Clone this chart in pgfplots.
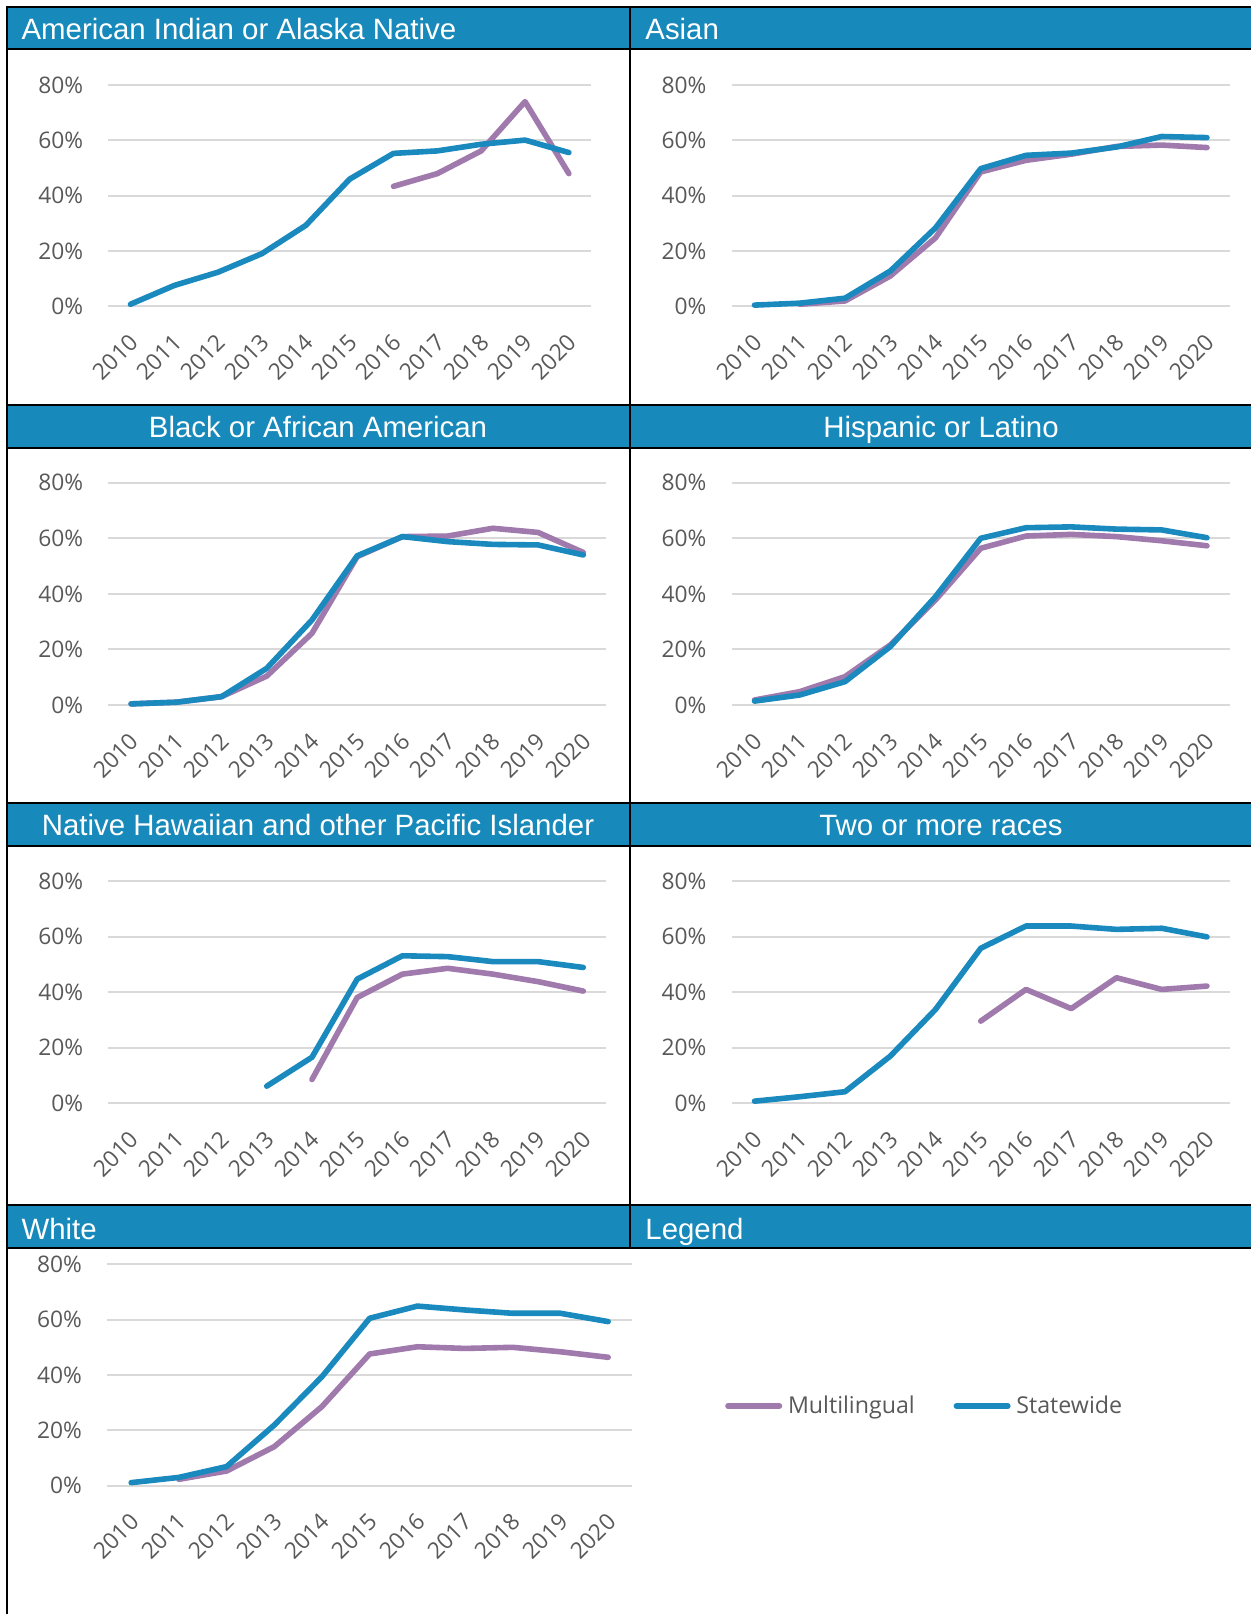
\documentclass[border=0pt]{standalone}
\usepackage{pgfplots}
\pgfplotsset{compat=1.18}
\usepackage{fontspec}
\setmainfont{Liberation Sans}
\newfontfamily\osans{Open Sans}
\definecolor{hdr}{RGB}{23,137,186}
\definecolor{stw}{RGB}{26,137,190}
\definecolor{mlt}{RGB}{160,122,172}
\definecolor{grd}{RGB}{217,217,217}
\definecolor{tkc}{RGB}{89,89,89}
\newcommand\tickfont{\osans\fontsize{11.4}{13.6}\selectfont}
\newcommand\titlefont{\fontsize{14.7}{17}\selectfont}
\pgfplotsset{
  panel/.style={
    scale only axis, anchor=south west,
    xmin=2009.5, xmax=2020.5, ymin=0, ymax=80,
    xtick={2010,2011,2012,2013,2014,2015,2016,2017,2018,2019,2020},
    xticklabels={2010,2011,2012,2013,2014,2015,2016,2017,2018,2019,2020},
    ytick={0,20,40,60,80},
    yticklabels={0\%,20\%,40\%,60\%,80\%},
    ymajorgrids, xmajorgrids=false,
    major grid style={draw=grd, line width=1pt},
    axis x line*=bottom, axis y line*=left,
    axis line style={draw=none},
    major tick length=0pt,
    clip=false,
    tick label style={font=\tickfont, text=tkc},
    yticklabel style={inner sep=0pt, anchor=east, xshift=-12.5pt},
    xticklabel style={inner sep=0pt, xshift=1.8pt, yshift=-16pt, rotate=45, anchor=east},
  },
  ml/.style={mlt, line width=2.8pt, line cap=round, line join=round},
  sw/.style={stw, line width=2.8pt, line cap=round, line join=round},
}
\begin{document}
\begin{tikzpicture}
\useasboundingbox (0pt,0pt) rectangle (625.5pt,807pt);
% header bars
\fill[hdr] (3.5pt,803.65pt) rectangle (625.5pt,782.35pt);
\fill[hdr] (3.5pt,604.5pt) rectangle (625.5pt,583.15pt);
\fill[hdr] (3.5pt,405.35pt) rectangle (625.5pt,384.15pt);
\fill[hdr] (3.5pt,204.5pt) rectangle (625.5pt,183.15pt);
% borders
\begin{scope}[line width=1pt, black]
\draw (3.5pt,803.65pt) -- (625.5pt,803.65pt);
\draw (3.5pt,782.35pt) -- (625.5pt,782.35pt);
\draw (3.5pt,604.5pt) -- (625.5pt,604.5pt);
\draw (3.5pt,583.15pt) -- (625.5pt,583.15pt);
\draw (3.5pt,405.35pt) -- (625.5pt,405.35pt);
\draw (3.5pt,384.15pt) -- (625.5pt,384.15pt);
\draw (3.5pt,204.5pt) -- (625.5pt,204.5pt);
\draw (3.5pt,183.15pt) -- (625.5pt,183.15pt);
\draw (3.5pt,804.15pt) -- (3.5pt,0pt);
\draw (314.85pt,804.15pt) -- (314.85pt,183.15pt);
\end{scope}
% titles
\begin{scope}[every node/.style={inner sep=0pt, text=white, font=\titlefont}]
\node[anchor=base west] at (10.6pt,787.35pt) {American Indian or Alaska Native};
\node[anchor=base west] at (322.5pt,787.35pt) {Asian};
\node[anchor=base] at (159pt,588.15pt) {Black or African American};
\node[anchor=base] at (470.5pt,588.15pt) {Hispanic or Latino};
\node[anchor=base] at (159pt,389pt) {Native Hawaiian and other Pacific Islander};
\node[anchor=base] at (470.5pt,389pt) {Two or more races};
\node[anchor=base west] at (10.6pt,187.35pt) {White};
\node[anchor=base west] at (322.5pt,187.35pt) {Legend};
\end{scope}

% American Indian or Alaska Native
\begin{axis}[panel, at={(54.25pt,653.75pt)}, width=241.15pt, height=110.75pt]
\addplot[ml] coordinates {(2016,43.4)(2017,48.0)(2018,56.2)(2019,74.0)(2020,48.0)};
\addplot[sw] coordinates {(2010,0.8)(2011,7.6)(2012,12.4)(2013,19.1)(2014,29.3)(2015,46.0)(2016,55.3)(2017,56.2)(2018,58.6)(2019,60.1)(2020,55.6)};
\end{axis}

% Asian
\begin{axis}[panel, at={(365.95pt,653.75pt)}, width=248.85pt, height=110.75pt]
\addplot[ml] coordinates {(2011,0.8)(2012,2.0)(2013,11.0)(2014,24.8)(2015,48.6)(2016,52.8)(2017,55.0)(2018,57.8)(2019,58.3)(2020,57.4)};
\addplot[sw] coordinates {(2010,0.5)(2011,1.2)(2012,3.0)(2013,12.8)(2014,28.4)(2015,49.8)(2016,54.6)(2017,55.4)(2018,57.6)(2019,61.4)(2020,61.0)};
\end{axis}

% Black or African American
\begin{axis}[panel, at={(54.25pt,454.5pt)}, width=248.7pt, height=111.15pt]
\addplot[ml] coordinates {(2010,0.4)(2011,1.0)(2012,3.0)(2013,10.4)(2014,25.8)(2015,53.4)(2016,60.6)(2017,60.8)(2018,63.6)(2019,62.1)(2020,54.9)};
\addplot[sw] coordinates {(2010,0.4)(2011,1.0)(2012,3.0)(2013,13.2)(2014,30.6)(2015,53.7)(2016,60.6)(2017,58.8)(2018,57.8)(2019,57.6)(2020,54.0)};
\end{axis}

% Hispanic or Latino
\begin{axis}[panel, at={(365.95pt,454.5pt)}, width=248.85pt, height=111.15pt]
\addplot[ml] coordinates {(2010,1.8)(2011,4.8)(2012,10.2)(2013,21.6)(2014,37.8)(2015,56.4)(2016,60.8)(2017,61.4)(2018,60.6)(2019,59.1)(2020,57.3)};
\addplot[sw] coordinates {(2010,1.4)(2011,3.6)(2012,8.4)(2013,21.0)(2014,39.0)(2015,60.0)(2016,63.8)(2017,64.1)(2018,63.3)(2019,63.0)(2020,60.2)};
\end{axis}

% Native Hawaiian and other Pacific Islander
\begin{axis}[panel, at={(54.25pt,255.3pt)}, width=248.7pt, height=111.2pt]
\addplot[ml] coordinates {(2014,8.6)(2015,38.1)(2016,46.5)(2017,48.6)(2018,46.5)(2019,43.8)(2020,40.4)};
\addplot[sw] coordinates {(2013,6.2)(2014,16.6)(2015,44.7)(2016,53.1)(2017,52.8)(2018,51.0)(2019,51.0)(2020,48.9)};
\end{axis}

% Two or more races
\begin{axis}[panel, at={(365.95pt,255.3pt)}, width=248.85pt, height=111.2pt]
\addplot[ml] coordinates {(2015,29.6)(2016,41.0)(2017,34.1)(2018,45.2)(2019,41.0)(2020,42.2)};
\addplot[sw] coordinates {(2010,0.8)(2011,2.4)(2012,4.2)(2013,17.0)(2014,33.8)(2015,55.8)(2016,63.8)(2017,63.8)(2018,62.6)(2019,63.0)(2020,59.9)};
\end{axis}

% White
\begin{axis}[panel, at={(53.65pt,64.15pt)}, width=262.35pt, height=110.7pt]
\addplot[ml] coordinates {(2011,2.3)(2012,5.3)(2013,14.1)(2014,28.6)(2015,47.6)(2016,50.2)(2017,49.6)(2018,50.0)(2019,48.4)(2020,46.4)};
\addplot[sw] coordinates {(2010,1.1)(2011,3.0)(2012,6.9)(2013,21.9)(2014,39.4)(2015,60.5)(2016,64.9)(2017,63.5)(2018,62.3)(2019,62.3)(2020,59.3)};
\end{axis}

% Legend
\begin{axis}[hide axis, scale only axis, anchor=west, at={(361pt,104pt)},
  width=1pt, height=1pt, xmin=0, xmax=1, ymin=0, ymax=1,
  legend columns=2,
  legend image code/.code={\draw[#1, line cap=round] (1.4pt,0pt) -- (27.1pt,0pt); \path (0pt,0pt) (30pt,0pt);},
  legend style={at={(0,0.5)}, anchor=west, draw=none, fill=none, inner sep=0pt,
    font=\osans\fontsize{11.6}{13.8}\selectfont, text=tkc, nodes={inner sep=0pt},
    /tikz/every even column/.append style={column sep=18pt}}]
\addlegendimage{mlt, line width=2.8pt}
\addlegendentry{Multilingual}
\addlegendimage{stw, line width=2.8pt}
\addlegendentry{Statewide}
\end{axis}
\end{tikzpicture}
\end{document}
